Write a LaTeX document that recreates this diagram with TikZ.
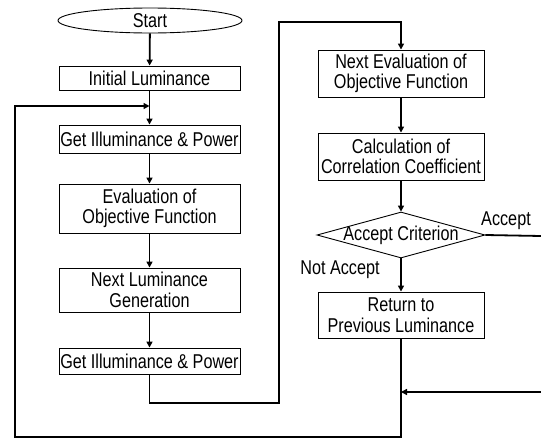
\documentclass[tikz,border=0pt]{standalone}
\usepackage{fontspec}
\setmainfont{Liberation Sans}[FakeStretch=0.81]
\usetikzlibrary{shapes.geometric,arrows.meta}
\begin{document}
\begin{tikzpicture}[x=1pt,y=-1pt,
  box/.style={draw=black,line width=0.9pt,fill=white,align=center,inner sep=0pt,font=\fontsize{20}{20.5}\selectfont},
  lbox/.style={box,minimum width=181pt},
  rbox/.style={box,minimum width=166pt},
  conn/.style={line width=1.8pt},
  arr/.style={conn,-{Triangle[length=6pt,width=6pt]}},
  lab/.style={font=\fontsize{20}{20.5}\selectfont,inner sep=0pt}]
\useasboundingbox (0,0) rectangle (541,439);
% left column
\node[box,ellipse,minimum width=184pt,minimum height=25pt] (start) at (150,20.5) {\makebox[0pt]{Start}};
\node[lbox,minimum height=24pt] (init) at (149.5,78) {Initial Luminance};
\node[lbox,minimum height=28pt] (gi1) at (149.5,139) {Get Illuminance \& Power};
\node[lbox,minimum height=49pt] (eval) at (149.5,208.5) {Evaluation of\\Objective Function};
\node[lbox,minimum height=44pt] (nlg) at (149.5,290) {Next Luminance\\Generation};
\node[lbox,minimum height=26pt] (gi2) at (149.5,361) {Get Illuminance \& Power};
% right column
\node[rbox,minimum height=47pt] (ne) at (401,73.5) {Next Evaluation of\\Objective Function};
\node[rbox,minimum height=47pt] (calc) at (401,156.5) {Calculation of\\Correlation Coefficient};
\node[box,diamond,minimum width=168pt,minimum height=46pt] (crit) at (401,235) {\makebox[0pt]{Accept Criterion}};
\node[rbox,minimum height=46pt] (ret) at (401,315) {Return to\\Previous Luminance};
% labels
\node[lab] (acc) at (506,221) {Accept};
\node[lab] (nacc) at (340,270) {Not Accept};
% helper coordinates
\coordinate (b1) at (149.5,403);
\coordinate (b2) at (279,403);
\coordinate (t1) at (279,22);
\coordinate (t2) at (401,22);
\coordinate (fb) at (149.5,106);
\coordinate (l1) at (15,437);
\coordinate (l2) at (15,106);
\coordinate (r1) at (401,437);
\coordinate (ae) at (541,236);
\coordinate (ai) at (541,392);
\coordinate (aj) at (401,392);
% connectors
\draw[arr] (start) -- (init);
\draw[arr] (init) -- (gi1);
\draw[arr] (gi1) -- (eval);
\draw[arr] (eval) -- (nlg);
\draw[arr] (nlg) -- (gi2);
\draw[arr] (gi2.south) -- (b1) -- (b2) -- (t1) -- (t2) -- (ne.north);
\draw[arr] (ne) -- (calc);
\draw[arr] (calc) -- (crit.north);
\draw[arr] (crit.south) -- (ret.north);
\draw[conn] (crit.east) -- (ae);
\draw[arr] (ai) -- (aj);
\draw[arr] (ret.south) -- (r1) -- (l1) -- (l2) -- (fb);
\end{tikzpicture}
\end{document}
